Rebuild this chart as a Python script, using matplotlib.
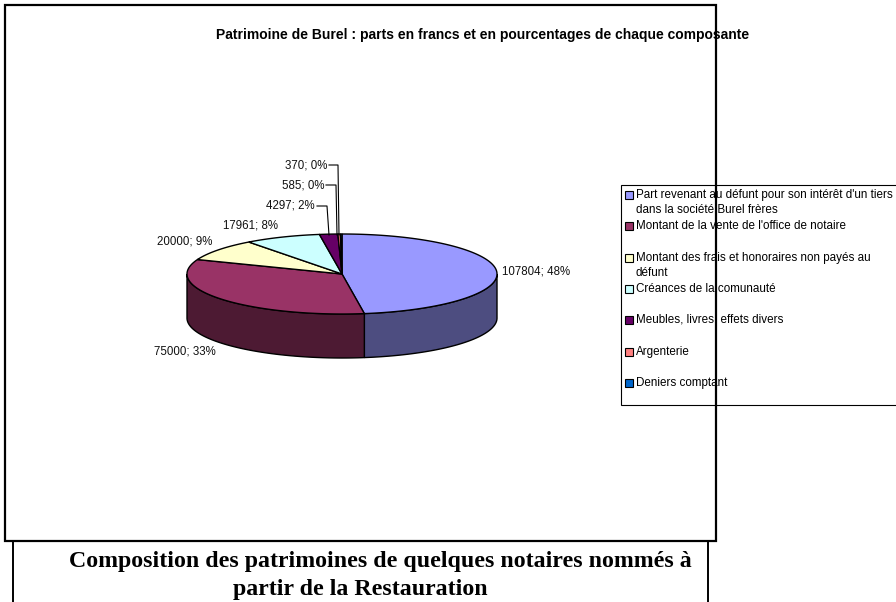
#!/usr/bin/env python3
import numpy as np
import matplotlib
matplotlib.use("Agg")
import matplotlib.pyplot as plt
from matplotlib.patches import Polygon, Rectangle

plt.rcParams['font.family'] = 'Liberation Sans'

# -----------------------
# Data
# -----------------------
labels = [
    "Part revenant au défunt pour son intérêt d'un tiers\ndans la société Burel frères",
    "Montant de la vente de l'office de notaire",
    "Montant des frais et honoraires non payés au\ndéfunt",
    "Créances de la comunauté",
    "Meubles, livres, effets divers",
    "Argenterie",
    "Deniers comptant",
]
values = [107804, 75000, 20000, 17961, 4297, 585, 370]
top_colors = ['#9999FF', '#993366', '#FFFFCC', '#CCFFFF', '#660066', '#FF8080', '#0066CC']
side_colors = ['#4D4D80', '#4D1A33', '#808066', '#668080', '#330033', '#804040', '#003366']

chart_title = "Patrimoine de Burel : parts en francs et en pourcentages de chaque composante"
page_title_1 = "Composition des patrimoines de quelques notaires nommés à"
page_title_2 = "partir de la Restauration"

# Label positions in pixels (x, y)
label_pos = [(502, 271), (154, 351), (157, 242), (223, 226), (266, 206), (282, 185), (285, 165)]
legend_y = [195, 226, 258, 289, 320, 352, 383]

# Pie geometry in pixels
cx, cy, rx, ry, depth = 342, 274, 155, 40, 44

fig = plt.figure(figsize=(8.96, 6.02), dpi=100)
ax = fig.add_axes([0, 0, 1, 1])
ax.set_xlim(0, 896)
ax.set_ylim(602, 0)
ax.axis('off')


def rim(a0, a1):
    # angle clockwise from top of the pie, degrees
    t = np.radians(np.linspace(a0, a1, max(int(abs(a1 - a0)) * 2, 2)))
    return cx + rx * np.sin(t), cy - ry * np.cos(t)


total = sum(values)
edges = np.concatenate([[0], np.cumsum(values)]) / total * 360

# -----------------------
# Side walls (only the front half is visible)
# -----------------------
for i in range(len(values)):
    a0, a1 = max(edges[i], 90), min(edges[i + 1], 270)
    if a1 <= a0:
        continue
    x, y = rim(a0, a1)
    pts = np.r_[np.c_[x, y], np.c_[x[::-1], y[::-1] + depth]]
    ax.add_patch(Polygon(pts, closed=True, fc=side_colors[i], ec='black', lw=1.0, zorder=2))

# -----------------------
# Top slices
# -----------------------
for i in range(len(values)):
    x, y = rim(edges[i], edges[i + 1])
    pts = np.r_[[[cx, cy]], np.c_[x, y]]
    ax.add_patch(Polygon(pts, closed=True, fc=top_colors[i], ec='black', lw=1.0, zorder=3))

# -----------------------
# Data labels and leader lines
# -----------------------
for v, (lx, ly) in zip(values, label_pos):
    ax.text(lx, ly, f"{v}; {round(v / total * 100)}%", fontsize=8.3, ha='left', va='center',
            color='#111111', zorder=5)

ax.plot([317, 327, 329], [206, 206, 235], color='black', lw=0.8, zorder=4)
ax.plot([326, 336, 337], [185, 185, 235], color='black', lw=0.8, zorder=4)
ax.plot([329, 338, 339], [165, 165, 235], color='black', lw=0.8, zorder=4)

# -----------------------
# Titles
# -----------------------
ax.text(483, 35, chart_title, fontsize=10, fontweight='bold', ha='center', va='center', zorder=5)
ax.text(380, 561, page_title_1, family='Liberation Serif', fontsize=17.2, fontweight='bold',
        ha='center', va='center', zorder=5)
ax.text(360, 589, page_title_2, family='Liberation Serif', fontsize=17.2, fontweight='bold',
        ha='center', va='center', zorder=5)

# -----------------------
# Legend box
# -----------------------
ax.add_patch(Rectangle((621, 185), 280, 220, fc='white', ec='black', lw=0.8, zorder=1))
for i, lab in enumerate(labels):
    ax.add_patch(Rectangle((625, legend_y[i] - 4), 8, 8, fc=top_colors[i], ec='black', lw=0.8, zorder=5))
    ax.text(636, legend_y[i] - 6, lab, fontsize=8.4, ha='left', va='top', linespacing=1.35, zorder=5)

# -----------------------
# Page frames
# -----------------------
ax.add_patch(Rectangle((5, 5), 711, 536, fc='none', ec='black', lw=1.6, zorder=6))
ax.plot([12.5, 12.5], [541, 602], color='black', lw=1.4, zorder=6)
ax.plot([708, 708], [541, 602], color='black', lw=1.4, zorder=6)

fig.savefig('out.png', dpi=100)
